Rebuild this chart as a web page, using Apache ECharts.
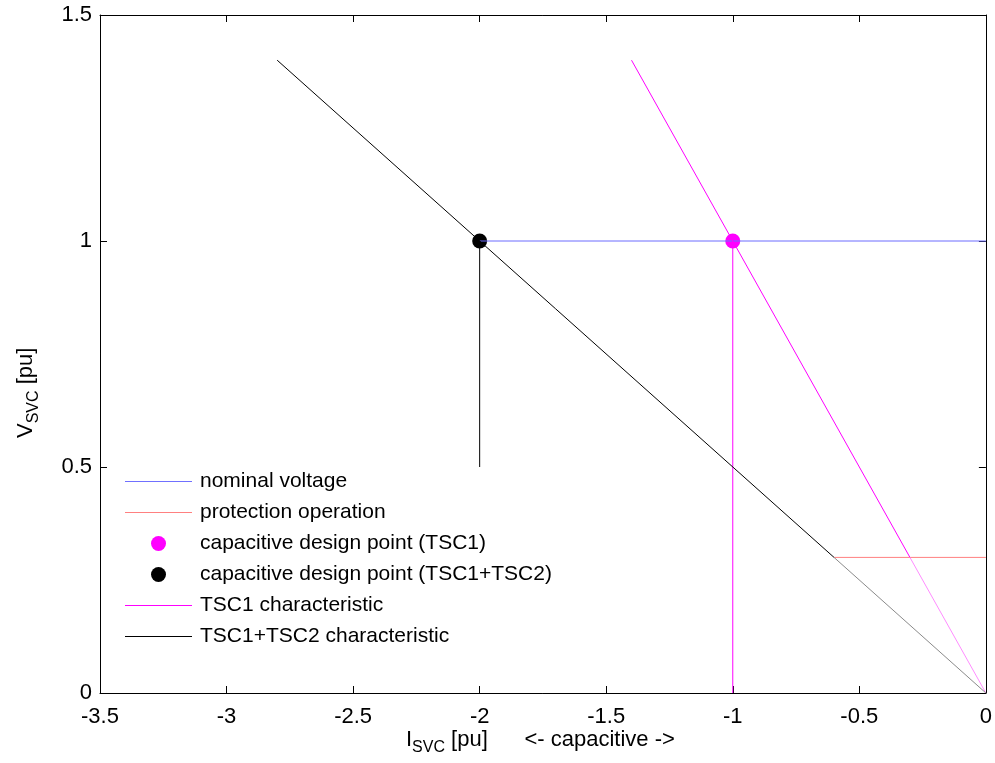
<!DOCTYPE html>
<html>
<head>
<meta charset="utf-8">
<script src="https://cdn.jsdelivr.net/npm/echarts@6/dist/echarts.min.js"></script>
<style>
  html, body { margin: 0; padding: 0; background: #fff; }
  #chart { width: 995px; height: 763px; }
</style>
</head>
<body>
<div id="chart"></div>
<script>
// axis ticks
var xTicks = [-3.5, -3, -2.5, -2, -1.5, -1, -0.5, 0];
var yTicks = [0, 0.5, 1, 1.5];

// characteristic lines (I_SVC, V_SVC)
var tsc12Line = [[-2.8, 1.4], [-0.6, 0.3]];
var tsc12Low = [[-0.6, 0.3], [0, 0]];
var tsc1Line = [[-1.4, 1.4], [-0.3, 0.3]];
var tsc1Low = [[-0.3, 0.3], [0, 0]];
var tsc1Drop = [[-1, 0], [-1, 1]];
var tsc12Drop = [[-2, 0.5], [-2, 1]];
var nominal = [[-2, 1], [0, 1]];
var protection = [[-0.6, 0.3], [0, 0.3]];
var tsc1Point = [[-1, 1]];
var tsc12Point = [[-2, 1]];

var FONT = 'Liberation Sans';
var LINE_ICON = 'path://M0,0H67V1H0Z';
var chart = echarts.init(document.getElementById('chart'));

function lineSeries(name, data, color) {
    return {
        name: name,
        type: 'line',
        data: data,
        showSymbol: false,
        symbol: 'none',
        silent: true,
        color: color,
        lineStyle: { color: color, width: 1 },
        itemStyle: { color: color }
    };
}

function legendLine(name, color) {
    return {
        name: name,
        icon: LINE_ICON,
        itemStyle: { color: color, borderWidth: 0, borderColor: color }
    };
}

var axisCommon = {
    axisLine: { show: true, onZero: false, lineStyle: { color: '#000', width: 1 } },
    axisTick: { show: true, inside: true, length: 7, lineStyle: { color: '#000' } },
    splitLine: { show: false }
};

var labelRich = {
    a: { fontFamily: FONT, fontSize: 22, color: '#000', lineHeight: 24, verticalAlign: 'top' },
    s: { fontFamily: FONT, fontSize: 16, color: '#000', lineHeight: 18, padding: [11, 0, 0, 0], verticalAlign: 'top' }
};

var option = {
    backgroundColor: '#fff',
    animation: false,
    grid: { left: 100, right: 4, top: 15, bottom: 70 },
    legend: {
        orient: 'vertical',
        left: 125,
        top: 471,
        padding: 0,
        itemWidth: 67,
        itemHeight: 15,
        itemGap: 10,
        textStyle: { fontFamily: FONT, fontSize: 21, lineHeight: 21, color: '#000', padding: [0, 0, 0, 3] },
        data: [
            legendLine('nominal voltage', '#7070ff'),
            legendLine('protection operation', '#ff8080'),
            { name: 'capacitive design point (TSC1)', icon: 'circle', itemStyle: { color: '#ff00ff', borderWidth: 0 } },
            { name: 'capacitive design point (TSC1+TSC2)', icon: 'circle', itemStyle: { color: '#000000', borderWidth: 0 } },
            legendLine('TSC1 characteristic', '#ff00ff'),
            legendLine('TSC1+TSC2 characteristic', '#000000')
        ]
    },
    xAxis: [
        Object.assign({
            type: 'value', min: -3.5, max: 0, interval: 0.5,
            axisLabel: { fontFamily: FONT, fontSize: 22, color: '#000', margin: 13 }
        }, axisCommon),
        Object.assign({
            type: 'value', min: -3.5, max: 0, interval: 0.5, position: 'top',
            axisLabel: { show: false }
        }, axisCommon)
    ],
    yAxis: [
        Object.assign({
            type: 'value', min: 0, max: 1.5, interval: 0.5,
            axisLabel: { fontFamily: FONT, fontSize: 22, color: '#000', margin: 8 }
        }, axisCommon),
        Object.assign({
            type: 'value', min: 0, max: 1.5, interval: 0.5, position: 'right',
            axisLabel: { show: false }
        }, axisCommon)
    ],
    series: [
        lineSeries('nominal voltage', nominal, '#6c6cff'),
        lineSeries('protection operation', protection, '#ff8080'),
        lineSeries('TSC1 characteristic', tsc1Line, '#ff00ff'),
        lineSeries('tsc1 low', tsc1Low, '#ff8cff'),
        lineSeries('tsc1 drop', tsc1Drop, '#ff00ff'),
        lineSeries('TSC1+TSC2 characteristic', tsc12Line, '#000000'),
        lineSeries('tsc12 low', tsc12Low, '#8a8a8a'),
        lineSeries('tsc12 drop', tsc12Drop, '#000000'),
        {
            name: 'capacitive design point (TSC1)',
            type: 'scatter',
            data: tsc1Point,
            symbol: 'circle',
            symbolSize: 15,
            itemStyle: { color: '#ff00ff', opacity: 1 }
        },
        {
            name: 'capacitive design point (TSC1+TSC2)',
            type: 'scatter',
            data: tsc12Point,
            symbol: 'circle',
            symbolSize: 15,
            itemStyle: { color: '#000000', opacity: 1 }
        }
    ],
    graphic: [
        {
            type: 'text',
            left: 406,
            top: 729,
            style: {
                text: '{a|I}{s|SVC}{a| [pu]      <- capacitive ->}',
                rich: labelRich
            }
        },
        {
            type: 'text',
            x: 15,
            y: 438,
            rotation: Math.PI / 2,
            style: {
                text: '{a|V}{s|SVC}{a| [pu]}',
                rich: labelRich
            }
        }
    ]
};

chart.setOption(option);
</script>
</body>
</html>
